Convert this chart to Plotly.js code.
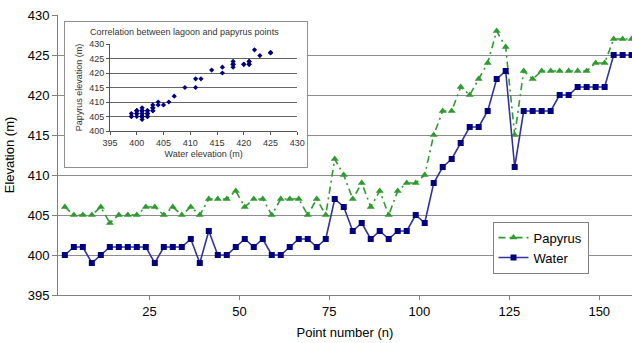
<!DOCTYPE html>
<html><head><meta charset="utf-8">
<script src="https://cdn.plot.ly/plotly-3.0.1.min.js"></script>
<style>html,body{margin:0;padding:0;background:#fff}#chart{width:632px;height:343px}</style>
</head><body><div id="chart"></div>
<script>
const pointNumber = [1.5,4,6.5,9,11.5,14,16.5,19,21.5,24,26.5,29,31.5,34,36.5,39,41.5,44,46.5,49,51.5,54,56.5,59,61.5,64,66.5,69,71.5,74,76.5,79,81.5,84,86.5,89,91.5,94,96.5,99,101.5,104,106.5,109,111.5,114,116.5,119,121.5,124,126.5,129,131.5,134,136.5,139,141.5,144,146.5,149,151.5,154,156.5,159];
const water = [400,401,401,399,400,401,401,401,401,401,
               399,401,401,401,402,399,403,400,400,401,
               402,401,402,400,400,401,402,402,401,402,
               407,406,403,404,402,403,402,403,403,405,
               404,409,411,412,414,416,416,418,422,423,
               411,418,418,418,418,420,420,421,421,421,
               421,425,425,425];
const papyrus = [406,405,405,405,406,404,405,405,405,406,
                 406,405,406,405,406,405,407,407,407,408,
                 406,407,407,405,407,407,407,405,407,405,
                 412,410,407,409,406,408,405,408,409,409,
                 410,415,418,418,421,420,422,424,428,426,
                 415,423,422,423,423,423,423,423,423,424,
                 424,427,427,427];
const xTickVals = [25,50,75,100,125,150];
const seriesNames = ['Papyrus','Water'];
const mainXTitle = 'Point number (n)';
const mainYTitle = 'Elevation (m)';
const insetTitle = 'Correlation between lagoon and papyrus points';
const insetXTitle = 'Water elevation (m)';
const insetYTitle = 'Papyrus elevation (m)';

const GREEN = '#2f9a2f', NAVY = '#000080', BLUELINE = '#333399', GRID = '#8c8c8c';
const FONT = '"Liberation Sans", Arial, sans-serif';

const traces = [
  {x: pointNumber, y: papyrus, name: seriesNames[0], type: 'scatter', mode: 'lines+markers',
   line: {color: GREEN, width: 1.6, dash: '7px,4px,2px,4px'},
   marker: {symbol: 'triangle-up', size: 7, color: GREEN}},
  {x: pointNumber, y: water, name: seriesNames[1], type: 'scatter', mode: 'lines+markers',
   line: {color: BLUELINE, width: 1.6},
   marker: {symbol: 'square', size: 6, color: NAVY}},
  {x: [], y: [], xaxis: 'x2', yaxis: 'y2', type: 'scatter', mode: 'markers', showlegend: false, hoverinfo: 'skip'},
  {x: water, y: papyrus, xaxis: 'x3', yaxis: 'y3', type: 'scatter', mode: 'markers', showlegend: false,
   marker: {symbol: 'diamond', size: 4, color: NAVY}}
];

const layout = {
  width: 632, height: 343,
  margin: {l: 58, r: 0, t: 15, b: 48},
  paper_bgcolor: '#ffffff', plot_bgcolor: '#ffffff',
  font: {family: FONT, size: 13, color: '#000'},
  showlegend: true,
  legend: {x: 0.757, y: 0.262, xanchor: 'left', yanchor: 'top', bgcolor: '#fff',
           bordercolor: '#808080', borderwidth: 1, font: {size: 13, family: FONT}, itemwidth: 30,
           tracegroupgap: 0},
  xaxis: {domain: [0, 1], range: [-0.4, 159.1], tickvals: xTickVals, ticks: 'outside', ticklen: 4,
          tickcolor: '#808080', showline: true, linecolor: '#808080', showgrid: false, zeroline: false,
          tickfont: {size: 13}, title: {text: mainXTitle, font: {size: 13}, standoff: 10}},
  yaxis: {domain: [0, 1], range: [395, 430], tick0: 395, dtick: 5, ticks: 'outside', ticklen: 5,
          tickcolor: '#808080', showline: true, linecolor: '#808080', showgrid: true, gridcolor: GRID,
          zeroline: false, tickfont: {size: 13}, title: {text: mainYTitle, font: {size: 13}, standoff: 10}},
  xaxis2: {domain: [0.0122, 0.4333], anchor: 'y2', range: [0, 1], showgrid: false, zeroline: false,
           showticklabels: false, ticks: '', showline: true, mirror: true, linecolor: '#909090', fixedrange: true},
  yaxis2: {domain: [0.458, 0.976], anchor: 'x2', range: [0, 1], showgrid: false, zeroline: false,
           showticklabels: false, ticks: '', showline: true, mirror: true, linecolor: '#909090', fixedrange: true},
  xaxis3: {domain: [0.0906, 0.4169], anchor: 'y3', range: [395, 430], tick0: 395, dtick: 5,
           ticks: 'outside', ticklen: 3, tickcolor: '#555', showline: true, linecolor: '#555',
           showgrid: false, zeroline: false, tickfont: {size: 9, color: '#333'},
           title: {text: insetXTitle, font: {size: 9, color: '#333'}, standoff: 3}},
  yaxis3: {domain: [0.5857, 0.8964], anchor: 'x3', range: [400, 430], tick0: 400, dtick: 5,
           ticks: 'outside', ticklen: 3, tickcolor: '#555', showline: true, linecolor: '#555',
           showgrid: true, gridcolor: '#666', zeroline: false, tickfont: {size: 9, color: '#333'},
           title: {text: insetYTitle, font: {size: 9, color: '#333'}, standoff: 5}},
  annotations: [{text: insetTitle, xref: 'paper', yref: 'paper', x: 0.221, y: 0.939,
                 xanchor: 'center', yanchor: 'middle', showarrow: false,
                 font: {size: 9, color: '#333', family: FONT}}]
};

Plotly.newPlot('chart', traces, layout, {displayModeBar: false, staticPlot: true});
</script>
</body></html>
